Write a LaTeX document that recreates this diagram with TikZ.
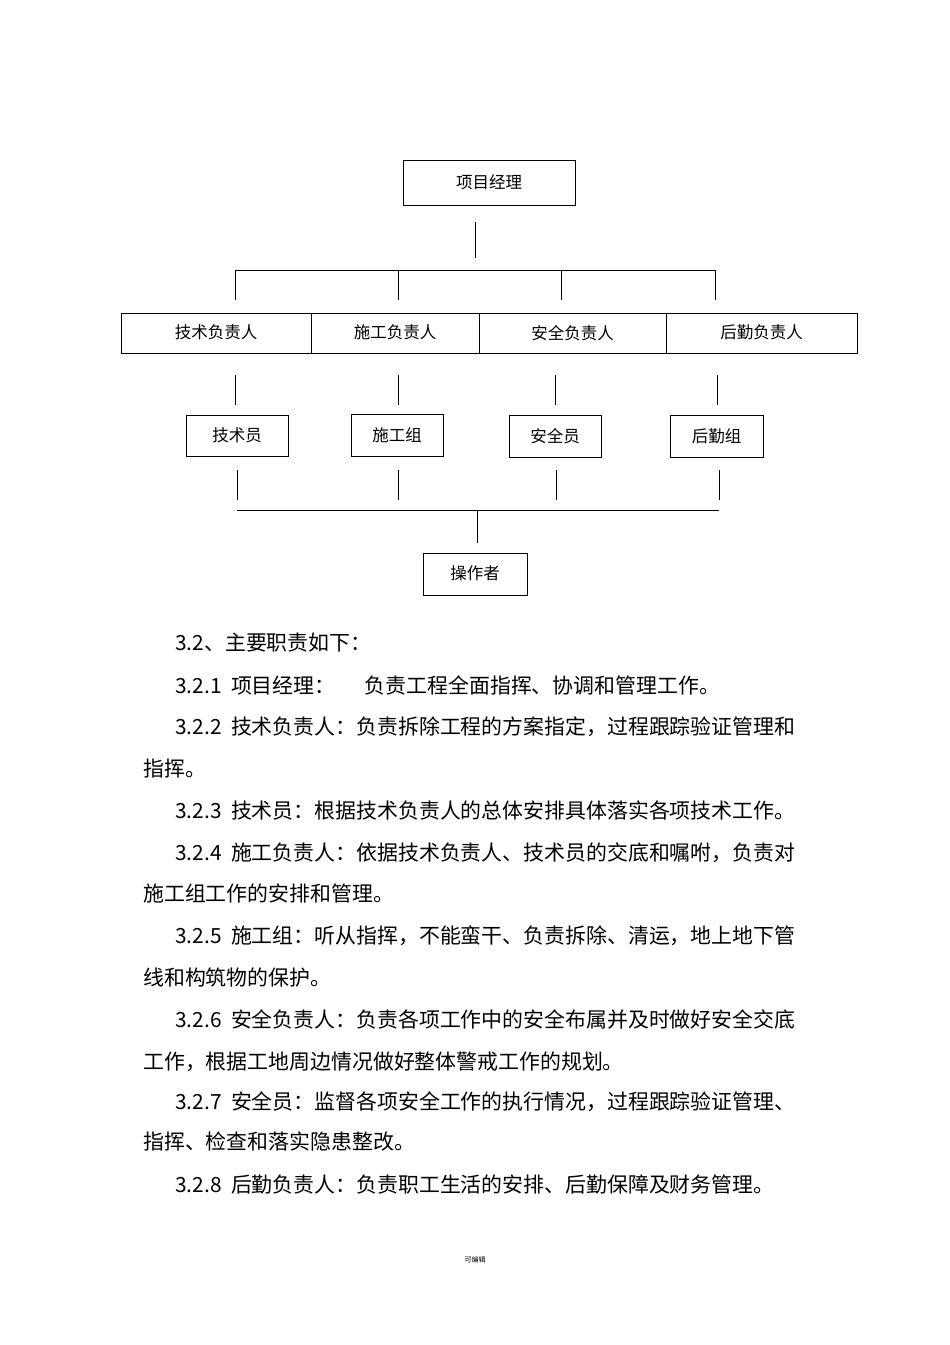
\documentclass[tikz,border=0pt]{standalone}
\usepackage{fontspec}
\setmainfont{Noto Sans CJK SC}
\newcommand{\numgap}{\hspace{0.45em}}
\begin{document}
\begin{tikzpicture}[x=1pt,y=-1pt,
  box/.style={draw,line width=0.8pt,inner sep=0pt,font=\fontsize{16.5}{18}\selectfont},
  ln/.style={line width=0.8pt},
  para/.style={anchor=west,inner sep=0pt,font=\fontsize{20.9}{22}\selectfont}]
\useasboundingbox (0,0) rectangle (950,1345);
\node[box,minimum width=172pt,minimum height=45pt] (pm) at (489,182.5) {\raisebox{2pt}{项目经理}};
\coordinate (pmb) at (475,222); \coordinate (pmc) at (475,258);
\draw[ln] (pmb) -- (pmc);
\coordinate (hl) at (235,270); \coordinate (hr) at (715,270);
\draw[ln] (hl) -- (hr);
\foreach \x in {235,398,561,715}{\draw[ln] (\x,270) -- (\x,300);}
\node[box,minimum width=190pt,minimum height=40pt] (a1) at (216,333) {\raisebox{2pt}{技术负责人}};
\node[box,minimum width=168pt,minimum height=40pt] (a2) at (395,333) {\raisebox{2pt}{施工负责人}};
\node[box,minimum width=187pt,minimum height=40pt] (a3) at (572.5,333) {\raisebox{2pt}{安全负责人}};
\node[box,minimum width=191pt,minimum height=40pt] (a4) at (761.5,333) {\raisebox{2pt}{后勤负责人}};
\foreach \x in {235,398,555,717}{\draw[ln] (\x,375) -- (\x,405);}
\node[box,minimum width=102pt,minimum height=41pt] (b1) at (237,435.5) {技术员};
\node[box,minimum width=92pt,minimum height=42pt] (b2) at (397,435) {施工组};
\node[box,minimum width=92pt,minimum height=42pt] (b3) at (555,436) {安全员};
\node[box,minimum width=93pt,minimum height=42pt] (b4) at (716.5,436) {后勤组};
\foreach \x in {237,398,556,719}{\draw[ln] (\x,470) -- (\x,500);}
\draw[ln] (237,510) -- (719,510);
\draw[ln] (477,510) -- (477,543);
\node[box,minimum width=104pt,minimum height=42pt] (op) at (475,574) {\raisebox{2pt}{操作者}};
\node[para] at (175,643) {3.2、主要职责如下：};
\node[para] at (175,685) {3.2.1\numgap 项目经理：\hspace{1.4em}负责工程全面指挥、协调和管理工作。};
\node[para] at (175,727) {3.2.2\numgap 技术负责人：负责拆除工程的方案指定，过程跟踪验证管理和};
\node[para] at (143,769) {指挥。};
\node[para] at (175,811) {3.2.3\numgap 技术员：根据技术负责人的总体安排具体落实各项技术工作。};
\node[para] at (175,853) {3.2.4\numgap 施工负责人：依据技术负责人、技术员的交底和嘱咐，负责对};
\node[para] at (143,894) {施工组工作的安排和管理。};
\node[para] at (175,936) {3.2.5\numgap 施工组：听从指挥，不能蛮干、负责拆除、清运，地上地下管};
\node[para] at (143,978) {线和构筑物的保护。};
\node[para] at (175,1020) {3.2.6\numgap 安全负责人：负责各项工作中的安全布属并及时做好安全交底};
\node[para] at (143,1062) {工作，根据工地周边情况做好整体警戒工作的规划。};
\node[para] at (175,1102) {3.2.7\numgap 安全员：监督各项安全工作的执行情况，过程跟踪验证管理、};
\node[para] at (143,1142) {指挥、检查和落实隐患整改。};
\node[para] at (175,1185) {3.2.8\numgap 后勤负责人：负责职工生活的安排、后勤保障及财务管理。};
\node[font=\fontsize{7}{8}\selectfont] (ft) at (475,1260) {可编辑};
\end{tikzpicture}
\end{document}
